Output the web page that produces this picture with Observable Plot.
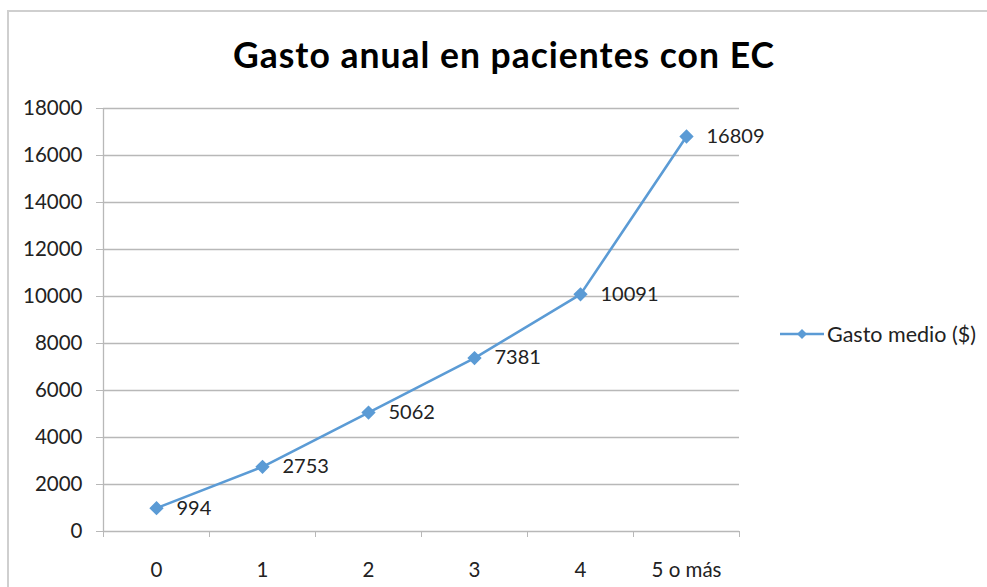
<!DOCTYPE html>
<html>
<head>
<meta charset="utf-8">
<script src="https://cdn.jsdelivr.net/npm/d3@7"></script>
<script src="https://cdn.jsdelivr.net/npm/@observablehq/plot@0.6"></script>
<style>
  html, body { margin: 0; padding: 0; background: #fff; }
  #wrap { position: relative; width: 987px; height: 587px; overflow: hidden; background: #fff; font-family: Lato, "Open Sans", sans-serif; }
  #frame { position: absolute; left: 7px; top: 10px; width: 990px; height: 600px; border: 2px solid #cfcfcf; box-sizing: border-box; }
  #title { position: absolute; left: 0; width: 1008px; top: 33px; text-align: center; font-size: 35.5px; letter-spacing: 1px; font-weight: bold; color: #000; }
  #plot { position: absolute; left: 0; top: 90px; }
  #legend { position: absolute; left: 780px; top: 321px; display: flex; align-items: center; font-size: 21.5px; color: #222; }
  #legend svg { margin-right: 3px; }
</style>
</head>
<body>
<div id="wrap">
  <div id="frame"></div>
  <div id="title">Gasto anual en pacientes con EC</div>
  <div id="plot"></div>
  <div id="legend"></div>
</div>
<script>
const categories = ["0", "1", "2", "3", "4", "5 o más"];
const gastoMedio = [994, 2753, 5062, 7381, 10091, 16809];
const yTicks = [0, 2000, 4000, 6000, 8000, 10000, 12000, 14000, 16000, 18000];
const seriesName = "Gasto medio ($)";

const data = categories.map((c, i) => ({cat: c, value: gastoMedio[i]}));
const color = "#5b9bd5";
const W = 790, H = 497, mL = 103, mR = 51;
const step = (W - mL - mR) / categories.length;

const chart = Plot.plot({
  width: W,
  height: H,
  marginLeft: mL,
  marginRight: mR,
  marginTop: 18,
  marginBottom: 56,
  style: {fontFamily: "Lato, 'Open Sans', sans-serif", fontSize: "20px", color: "#222", background: "transparent", overflow: "visible"},
  x: {type: "point", domain: categories, padding: 0.5, label: null},
  y: {domain: [0, 18000], ticks: yTicks, label: null},
  marks: [
    Plot.gridY(yTicks, {stroke: "#b8b8b8", strokeOpacity: 1, strokeWidth: 1.3}),
    Plot.ruleX([categories[0]], {dx: -step / 2, y1: 0, y2: 18000, stroke: "#b8b8b8", strokeWidth: 1.3}),
    Plot.axisY({ticks: yTicks, tickSize: 7, tickPadding: 14, stroke: "#b8b8b8", tickFormat: d => String(d), fontSize: 20.5, fill: "#222"}),
    Plot.axisX({tickSize: 0, tickPadding: 31, fontSize: 20.5, fill: "#222", stroke: "none"}),
    Plot.axisX({tickSize: 6, dx: -step / 2, tickFormat: () => "", stroke: "#b8b8b8"}),
    Plot.axisX([categories[categories.length - 1]], {tickSize: 6, dx: step / 2, tickFormat: () => "", stroke: "#b8b8b8"}),
    Plot.line(data, {x: "cat", y: "value", stroke: color, strokeWidth: 2.6}),
    Plot.dot(data, {x: "cat", y: "value", symbol: "diamond2", r: 5.5, fill: color, stroke: color}),
    Plot.text(data, {x: "cat", y: "value", text: d => String(d.value), dx: 20, textAnchor: "start", fontSize: 20, fill: "#222"})
  ]
});
document.getElementById("plot").appendChild(chart);

// legend
const legend = document.getElementById("legend");
const ns = "http://www.w3.org/2000/svg";
const ls = document.createElementNS(ns, "svg");
ls.setAttribute("width", 44); ls.setAttribute("height", 14);
const ln = document.createElementNS(ns, "line");
ln.setAttribute("x1", 0); ln.setAttribute("x2", 44); ln.setAttribute("y1", 7); ln.setAttribute("y2", 7);
ln.setAttribute("stroke", color); ln.setAttribute("stroke-width", 2.6);
ls.appendChild(ln);
const dm = document.createElementNS(ns, "path");
dm.setAttribute("d", "M22,2 L27,7 L22,12 L17,7 Z");
dm.setAttribute("fill", color);
ls.appendChild(dm);
legend.appendChild(ls);
const lt = document.createElement("span");
lt.textContent = seriesName;
legend.appendChild(lt);
</script>
</body>
</html>
